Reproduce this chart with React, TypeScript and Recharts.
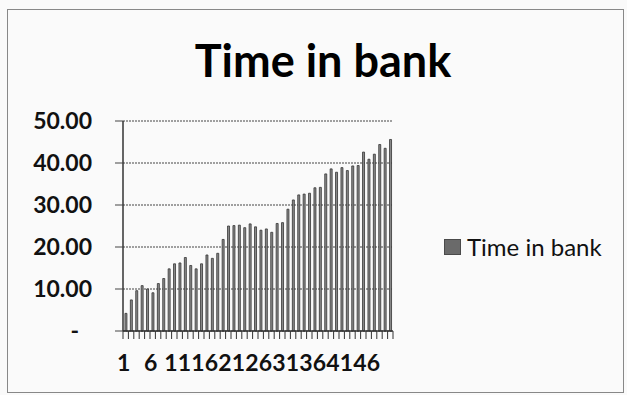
import React from "react";
import { Bar, BarChart, CartesianGrid, Legend, XAxis, YAxis } from "recharts";

const days = Array.from({ length: 50 }, (_, i) => String(i + 1));

const timeInBank = [
  4.2, 7.4, 9.6, 10.8, 10.0, 9.1, 11.3, 12.5, 14.8, 16.0,
  16.2, 17.5, 15.6, 14.8, 16.0, 18.1, 17.3, 18.5, 21.8, 25.0,
  25.1, 25.2, 24.6, 25.5, 24.8, 24.0, 24.3, 23.5, 25.6, 25.8,
  29.0, 31.2, 32.4, 32.6, 32.8, 34.1, 34.2, 37.4, 38.6, 37.8,
  38.9, 38.2, 39.3, 39.4, 42.6, 40.9, 42.1, 44.4, 43.5, 45.6,
];

const yTicks = [0, 10, 20, 30, 40, 50];

const data = days.map((day, i) => ({ day, value: timeInBank[i] }));

const W = 627;
const H = 395;
const PLOT_LEFT = 123;
const PLOT_RIGHT = 393;
const HALF_BAND = (PLOT_RIGHT - PLOT_LEFT) / days.length / 2;
const FONT = "Lato, 'Open Sans', sans-serif";

function XTick(props: any) {
  const { x, y, index, payload } = props;
  const showLabel = index % 5 === 0;
  return (
    <g>
      <line x1={x - HALF_BAND} x2={x - HALF_BAND} y1={y} y2={y + 8} stroke="#333" strokeWidth={1} />
      {index === days.length - 1 && (
        <line x1={x + HALF_BAND} x2={x + HALF_BAND} y1={y} y2={y + 8} stroke="#333" strokeWidth={1} />
      )}
      {showLabel && (
        <text x={x - 2} y={y + 40} textAnchor="middle" fontFamily={FONT} fontWeight={700} fontSize={23} fill="#111">
          {payload.value}
        </text>
      )}
    </g>
  );
}

function YTick(props: any) {
  const { x, y, payload } = props;
  const v = payload.value;
  return (
    <text
      x={v === 0 ? x - 13 : x}
      y={y}
      dy={8}
      textAnchor="end"
      fontFamily={FONT}
      fontWeight={700}
      fontSize={23}
      fill="#111"
    >
      {v === 0 ? "-" : v.toFixed(2)}
    </text>
  );
}

function LegendBox() {
  return (
    <div style={{ display: "flex", alignItems: "center", fontFamily: FONT, fontSize: 24, color: "#111" }}>
      <span
        style={{
          width: 15,
          height: 14,
          background: "#6a6a6a",
          border: "1px solid #4a4a4a",
          marginRight: 6,
          display: "inline-block",
        }}
      />
      <span>Time in bank</span>
    </div>
  );
}

export default function App() {
  return (
    <div style={{ position: "absolute", left: 0, top: 0, width: W, height: H, background: "#fafafa" }}>
      <div
        style={{
          position: "absolute",
          left: 7,
          top: 9,
          width: 617,
          height: 384,
          border: "1px solid #888",
          boxSizing: "border-box",
        }}
      />
      <div
        style={{
          position: "absolute",
          left: 0,
          top: 34,
          width: 646,
          textAlign: "center",
          fontFamily: FONT,
          fontWeight: 700,
          fontSize: 45,
          lineHeight: "52px",
          color: "#000",
        }}
      >
        Time in bank
      </div>
      <BarChart
        width={W}
        height={H}
        data={data}
        margin={{ top: 121, right: W - PLOT_RIGHT, left: 0, bottom: 24 }}
        barCategoryGap="36%"
      >
        <CartesianGrid vertical={false} stroke="#444" strokeWidth={1} strokeDasharray="2 1" />
        <XAxis
          dataKey="day"
          height={40}
          interval={0}
          tickSize={0}
          tickMargin={0}
          tickLine={false}
          axisLine={{ stroke: "#333", strokeWidth: 1.5 }}
          tick={<XTick />}
        />
        <YAxis
          width={PLOT_LEFT}
          domain={[0, 50]}
          ticks={yTicks}
          interval={0}
          tickSize={8}
          tickMargin={23}
          tickLine={{ stroke: "#444" }}
          axisLine={{ stroke: "#333", strokeWidth: 1.5 }}
          tick={<YTick />}
        />
        <Legend
          layout="vertical"
          verticalAlign="middle"
          align="center"
          wrapperStyle={{ position: "absolute", left: 444, top: 232, width: 180 }}
          content={() => <LegendBox />}
        />
        <Bar
          dataKey="value"
          name="Time in bank"
          fill="#8a8a8a"
          stroke="#333"
          strokeWidth={0.8}
          isAnimationActive={false}
        />
      </BarChart>
    </div>
  );
}
